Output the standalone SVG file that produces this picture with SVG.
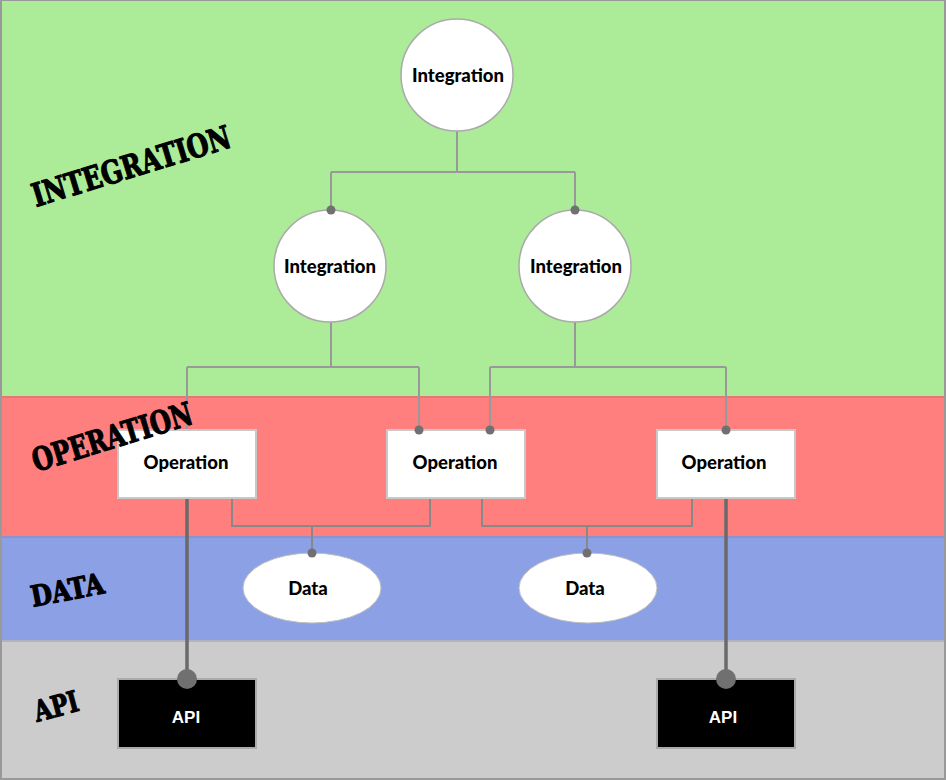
<svg xmlns="http://www.w3.org/2000/svg" width="946" height="780" viewBox="0 0 946 780">
<style>
.band{stroke:none}
.lbl{font-family:"DejaVu Serif Condensed","DejaVu Serif",serif;font-weight:bold;fill:#000;stroke:#000;stroke-width:1.1;stroke-linejoin:round}
.nt{font-family:Lato,"Open Sans",sans-serif;font-weight:900;font-size:18.5px;fill:#000;text-anchor:middle}
.at{font-family:"Liberation Sans",Arial,sans-serif;font-weight:bold;font-size:17px;fill:#fff;text-anchor:middle}
.circ{fill:#fff;stroke:#aaa;stroke-width:1.5}
.box{fill:#fff;stroke:#c8c8c8;stroke-width:2}
.ell{fill:#fff;stroke:#c0c0c0;stroke-width:1}
.api{fill:#000;stroke:#aaa;stroke-width:2}
.ln{fill:none;stroke:#999;stroke-width:2}
.ln2{fill:none;stroke:#888;stroke-width:2}
.thick{fill:none;stroke:#6a6a6a;stroke-width:3.5}
.dot{fill:#707070}
</style>
<g id="bands">
<rect class="band" x="0" y="0" width="946" height="397" fill="#acec98"/>
<rect class="band" x="0" y="397" width="946" height="140" fill="#ff7f7f"/>
<rect class="band" x="0" y="537" width="946" height="104" fill="#8ca0e5"/>
<rect class="band" x="0" y="641" width="946" height="139" fill="#cccccc"/>
<line x1="0" y1="397" x2="946" y2="397" stroke="#e07878" stroke-width="2"/>
<line x1="0" y1="537" x2="946" y2="537" stroke="#8a94cc" stroke-width="2"/>
<line x1="0" y1="641" x2="946" y2="641" stroke="#b0b4c0" stroke-width="2"/>
<rect x="1" y="0" width="944" height="779" fill="none" stroke="#999" stroke-width="2"/>
</g>
<g id="connectors">
<path class="ln" d="M457,131 V172 M331,172 H575 M331,172 V210 M575,172 V210"/>
<path class="ln" d="M331,322 V367 M187,367 H419 M187,367 V430 M419,367 V430"/>
<path class="ln" d="M575,322 V367 M490,367 H726 M490,367 V430 M726,367 V430"/>
<path class="ln2" d="M232,498 V526 H430 V498 M312,526 V553"/>
<path class="ln2" d="M482,498 V526 H692 V498 M587,526 V553"/>
<path class="thick" d="M187,498 V679 M726,498 V679"/>
</g>
<g id="int-top"><circle class="circ" cx="457" cy="75" r="56"/><text class="nt" x="458" y="82">Integration</text></g>
<g id="int-left"><circle class="circ" cx="330" cy="266" r="56"/><text class="nt" x="330" y="273">Integration</text></g>
<g id="int-right"><circle class="circ" cx="575" cy="266" r="56"/><text class="nt" x="576" y="273">Integration</text></g>
<g id="op-1"><rect class="box" x="118" y="430" width="138" height="68"/><text class="nt" x="186" y="469">Operation</text></g>
<g id="op-2"><rect class="box" x="387" y="430" width="138" height="68"/><text class="nt" x="455" y="469">Operation</text></g>
<g id="op-3"><rect class="box" x="657" y="430" width="138" height="68"/><text class="nt" x="724" y="469">Operation</text></g>
<g id="data-1"><ellipse class="ell" cx="312" cy="588" rx="69" ry="35"/><text class="nt" x="308" y="595">Data</text></g>
<g id="data-2"><ellipse class="ell" cx="588" cy="588" rx="69" ry="35"/><text class="nt" x="585" y="595">Data</text></g>
<g id="api-1"><rect class="api" x="118" y="679" width="138" height="69"/><text class="at" x="186" y="723">API</text></g>
<g id="api-2"><rect class="api" x="657" y="679" width="138" height="69"/><text class="at" x="723" y="723">API</text></g>
<g id="connector-dots">
<circle class="dot" cx="331" cy="210" r="4.5"/>
<circle class="dot" cx="575" cy="210" r="4.5"/>
<circle class="dot" cx="419" cy="430" r="4.5"/>
<circle class="dot" cx="490" cy="430" r="4.5"/>
<circle class="dot" cx="726" cy="430" r="4.5"/>
<circle class="dot" cx="312" cy="553" r="4.5"/>
<circle class="dot" cx="587" cy="553" r="4.5"/>
<circle class="dot" cx="187" cy="679" r="10"/>
<circle class="dot" cx="726" cy="679" r="10"/>
</g>
<g id="layer-labels">
<text class="lbl" font-size="32" transform="translate(36,207) rotate(-17)" textLength="206" lengthAdjust="spacingAndGlyphs">INTEGRATION</text>
<text class="lbl" font-size="32" transform="translate(36,472) rotate(-17)" textLength="166" lengthAdjust="spacingAndGlyphs">OPERATION</text>
<text class="lbl" font-size="29" transform="translate(33,607) rotate(-11)" textLength="74" lengthAdjust="spacingAndGlyphs">DATA</text>
<text class="lbl" font-size="29" transform="translate(37,722) rotate(-15)" textLength="45" lengthAdjust="spacingAndGlyphs">API</text>
</g>
</svg>
